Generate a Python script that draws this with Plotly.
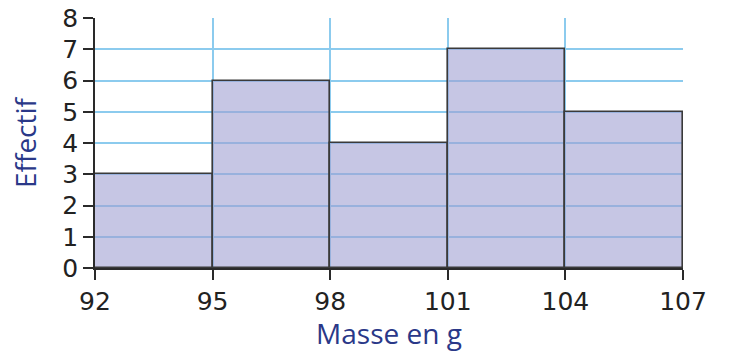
import plotly.graph_objects as go

# Classes de masse (bornes en g) et effectifs
bin_edges = [92, 95, 98, 101, 104, 107]
effectifs = [3, 6, 4, 7, 5]
y_ticks = [0, 1, 2, 3, 4, 5, 6, 7, 8]

centres = [(a + b) / 2 for a, b in zip(bin_edges[:-1], bin_edges[1:])]
largeurs = [b - a for a, b in zip(bin_edges[:-1], bin_edges[1:])]

grid_col = "#8ccbee"
title_col = "#2a3888"

fig = go.Figure(
    go.Bar(
        x=centres,
        y=effectifs,
        width=largeurs,
        marker=dict(
            color="rgba(160,160,210,0.6)",
            line=dict(color="#3a3a3a", width=1.6),
        ),
        hoverinfo="x+y",
    )
)

fig.update_layout(
    width=730,
    height=352,
    margin=dict(l=95, r=47, t=18, b=84),
    paper_bgcolor="white",
    plot_bgcolor="white",
    showlegend=False,
    bargap=0,
)

fig.update_xaxes(
    range=[bin_edges[0], bin_edges[-1]],
    tickvals=bin_edges,
    ticktext=[str(v) for v in bin_edges],
    automargin=False,
    showgrid=True,
    gridcolor=grid_col,
    gridwidth=1.5,
    showline=True,
    linecolor="#2a2a2a",
    linewidth=1.5,
    ticks="outside",
    ticklen=10,
    tickwidth=1.5,
    tickcolor="#2a2a2a",
    tickfont=dict(family="DejaVu Sans", size=25, color="#222222"),
    zeroline=False,
    title=dict(
        text="Masse en g",
        font=dict(family="Open Sans", size=28, color=title_col),
        standoff=4,
    ),
)

fig.update_yaxes(
    range=[0, 8],
    tickvals=y_ticks,
    automargin=False,
    showgrid=True,
    gridcolor=grid_col,
    gridwidth=1.5,
    showline=True,
    linecolor="#2a2a2a",
    linewidth=1.5,
    ticks="outside",
    ticklen=10,
    tickwidth=1.5,
    tickcolor="#2a2a2a",
    tickfont=dict(family="DejaVu Sans", size=25, color="#222222"),
    zeroline=False,
    title=dict(
        text="Effectif",
        font=dict(family="Open Sans", size=28, color=title_col),
        standoff=18,
    ),
)

fig.write_html("out.html")
